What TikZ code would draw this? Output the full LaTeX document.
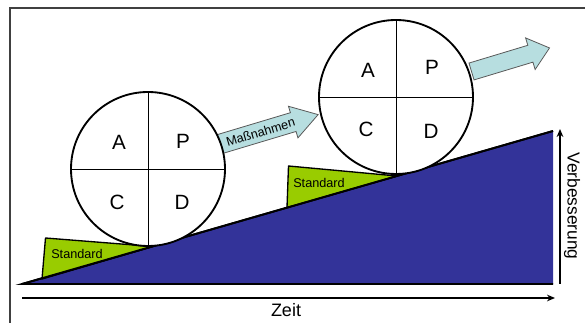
\documentclass[tikz,border=0pt]{standalone}
\usepackage{fontspec}
\setmainfont{Liberation Sans}
\definecolor{slopeblue}{HTML}{333399}
\definecolor{stdgreen}{HTML}{99CC00}
\definecolor{arrowblue}{HTML}{B7DEE0}
\definecolor{framegray}{HTML}{404040}
\tikzset{
  axisline/.style={line width=1.5pt,-{Stealth[length=6pt,width=5pt]}},
  pdcacircle/.style={draw=black,fill=white,line width=1.4pt},
  crossline/.style={draw=black,line width=0.7pt},
  letter/.style={font=\fontsize{15.5}{17}\selectfont,inner sep=0pt},
  stdbox/.style={fill=stdgreen,draw=black,line width=1pt,line join=round},
  stdtext/.style={font=\fontsize{9.5}{11}\selectfont,inner sep=0pt},
  blockarrow/.style={fill=arrowblue,draw=black!65,line width=0.6pt,line join=miter},
}
\usetikzlibrary{arrows.meta}
\begin{document}
\begin{tikzpicture}[x=0.75pt,y=-0.75pt]
\useasboundingbox (0,0) rectangle (585,323);
% frame
\draw[framegray,line width=0.8pt] (10,330) -- (10,8) -- (590,8);
% slope triangle
\coordinate (t1) at (22,284);
\coordinate (t2) at (553,284);
\coordinate (t3) at (553,131);
\fill[slopeblue] (t1) -- (t2) -- (t3) -- cycle;
\draw[black,line width=1.4pt] (t3) -- (t1) -- (t2);
% standards
\draw[stdbox] (42,279) -- (45.5,238) -- (153,246.5) -- cycle;
\node[stdtext] (std1) at (77,254) {Standard};
\draw[stdbox] (287,207.5) -- (288.5,166) -- (397,176) -- cycle;
\node[stdtext] (std2) at (319,183) {Standard};
\draw[black,line width=1.4pt] (t3) -- (t1);
% arrows
\begin{scope}[shift={(218.5,144.5)},rotate=16.7]
  \draw[blockarrow] (0,-9.8) -- (78,-9.8) -- (78,-16.5) -- (104,0) -- (78,16.5) -- (78,9.8) -- (0,9.8) -- cycle;
  \node[font=\fontsize{9.5}{11}\selectfont,inner sep=0pt,rotate=16.7] (mass) at (44,0) {Maßnahmen};
\end{scope}
\begin{scope}[shift={(471.5,71.5)},rotate=16.8]
  \draw[blockarrow] (0,-8.8) -- (61.5,-8.8) -- (61.5,-16.5) -- (81.5,0) -- (61.5,16.5) -- (61.5,8.8) -- (0,8.8) -- cycle;
\end{scope}
% circle 1
\node[pdcacircle,circle,minimum size=154*0.75pt,inner sep=0pt] (c1) at (148,169) {};
\draw[crossline] (c1.north) -- (c1.south);
\draw[crossline] (c1.west) -- (c1.east);
\node[letter] (a1) at (119,142) {A};
\node[letter] (p1) at (183,141) {P};
\node[letter] (cc1) at (117,202) {C};
\node[letter] (d1) at (182,202) {D};
% circle 2
\node[pdcacircle,circle,minimum size=154*0.75pt,inner sep=0pt] (c2) at (396,97) {};
\draw[crossline] (c2.north) -- (c2.south);
\draw[crossline] (c2.west) -- (c2.east);
\node[letter] (a2) at (368,70) {A};
\node[letter] (p2) at (432,67) {P};
\node[letter] (cc2) at (366,129) {C};
\node[letter] (d2) at (431,131) {D};
% axes
\coordinate (xs) at (22,298);
\coordinate (xe) at (555,298);
\draw[axisline] (xs) -- (xe);
\node[font=\fontsize{13.5}{15}\selectfont,inner sep=0pt] (zeit) at (286,310) {Zeit};
\coordinate (ys) at (560,284);
\coordinate (ye) at (560,129);
\draw[axisline] (ys) -- (ye);
\node[font=\fontsize{13}{15}\selectfont,inner sep=0pt,rotate=-90] (verb) at (572,206) {Verbesserung};
\end{tikzpicture}
\end{document}
